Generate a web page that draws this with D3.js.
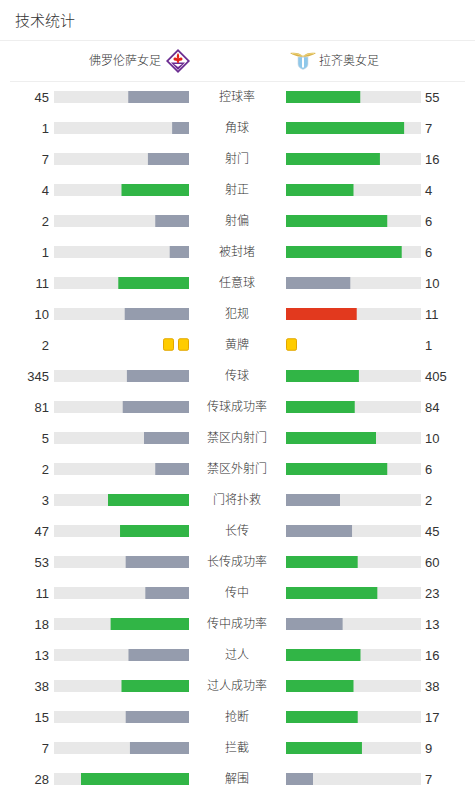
<!DOCTYPE html>
<html>
<head>
    <meta charset="utf-8">
    <title>技术统计</title>
    <style>
        html, body { margin: 0; padding: 0; background: #fff; }
        svg { display: block; }
        text { font-family: "Liberation Sans", "Noto Sans CJK SC", sans-serif; fill: #333; }
        .cjk { font-family: "Noto Sans CJK SC", sans-serif; font-weight: 300; }
    </style>
    <script src="https://cdn.jsdelivr.net/npm/d3@7"></script>
</head>
<body>
<script>

    var homeTeam = "佛罗伦萨女足",
        awayTeam = "拉齐奥女足"

    var statLabels = ["控球率", "角球", "射门", "射正", "射偏", "被封堵", "任意球", "犯规", "黄牌",
        "传球", "传球成功率", "禁区内射门", "禁区外射门", "门将扑救", "长传", "长传成功率", "传中",
        "传中成功率", "过人", "过人成功率", "抢断", "拦截", "解围"]
    var homeValues = [45, 1, 7, 4, 2, 1, 11, 10, 2, 345, 81, 5, 2, 3, 47, 53, 11, 18, 13, 38, 15, 7, 28]
    var awayValues = [55, 7, 16, 4, 6, 6, 10, 11, 1, 405, 84, 10, 6, 2, 45, 60, 23, 13, 16, 38, 17, 9, 7]

    // stats drawn as cards instead of bars, and stats where more is bad
    var cardStats = ["黄牌"]
    var badStats = ["犯规"]

    var view_width = 475,
        view_height = 795,
        bar_width = 135,
        bar_height = 12,
        left_bar_end = 189,
        right_bar_start = 286

    var green = "#31b546", grey = "#959cad", red = "#e2391e", track = "#e8e8e8"

    var svg = d3.select('body').append('svg')
        .attr('width', view_width)
        .attr('height', view_height)

    // title
    svg.append('text')
        .attr('class', 'cjk')
        .attr('x', 15)
        .attr('y', 26)
        .style('font-size', '15px')
        .text("技术统计")

    svg.append('line')
        .attr('x1', 0).attr('x2', view_width)
        .attr('y1', 40.5).attr('y2', 40.5)
        .attr('stroke', '#eeeeee')

    // team header
    svg.append('text')
        .attr('class', 'cjk')
        .attr('x', 161)
        .attr('y', 61)
        .attr('dy', '0.35em')
        .attr('text-anchor', 'end')
        .style('font-size', '12px')
        .text(homeTeam)
    svg.append('text')
        .attr('class', 'cjk')
        .attr('x', 319)
        .attr('y', 61)
        .attr('dy', '0.35em')
        .style('font-size', '12px')
        .text(awayTeam)

    // fiorentina badge
    var fio = svg.append('g').attr('transform', 'translate(178,61)')
    fio.append('path')
        .attr('d', 'M0,-12 L12,0 L0,12 L-12,0 Z')
        .attr('fill', '#6b2c91')
    fio.append('path')
        .attr('d', 'M0,-9.5 L9.5,0 L0,9.5 L-9.5,0 Z')
        .attr('fill', '#fff')
    fio.append('path')
        .attr('d', 'M-7,1.5 L7,1.5 L0,9 Z')
        .attr('fill', '#6b2c91')
    fio.append('path')
        .attr('d', 'M-4,3 L4,3 L0,6 Z')
        .attr('fill', '#fff')
    fio.append('path')
        .attr('d', 'M0,-8 C1.5,-6 1.5,-4 0.6,-2.5 C2,-4 4.5,-4 4.5,-2 C4.5,-0.5 3,0 2,-0.5 L0.8,0.8 L0.8,2 L-0.8,2 L-0.8,0.8 L-2,-0.5 C-3,0 -4.5,-0.5 -4.5,-2 C-4.5,-4 -2,-4 -0.6,-2.5 C-1.5,-4 -1.5,-6 0,-8 Z')
        .attr('fill', '#e2231a')

    // lazio badge
    var laz = svg.append('g').attr('transform', 'translate(303,61)')
    laz.append('path')
        .attr('d', 'M-13,-8 C-8,-9 -3,-8 0,-5 C3,-8 8,-9 13,-8 C10,-6 6,-4.5 2,-4 L-2,-4 C-6,-4.5 -10,-6 -13,-8 Z')
        .attr('fill', '#d8b24a')
    laz.append('path')
        .attr('d', 'M-11,-7.5 C-7,-7.5 -3,-6.5 0,-4.5 C3,-6.5 7,-7.5 11,-7.5')
        .attr('fill', 'none')
        .attr('stroke', '#f3dd8c')
        .attr('stroke-width', 0.8)
    laz.append('path')
        .attr('d', 'M-5,-4 L5,-4 L5,3 C5,6 2.5,7.5 0,8.5 C-2.5,7.5 -5,6 -5,3 Z')
        .attr('fill', '#8fc8ea')
        .attr('stroke', '#d0d8e0')
        .attr('stroke-width', 0.6)
    laz.append('rect')
        .attr('x', -1).attr('y', -3.5)
        .attr('width', 2).attr('height', 10)
        .attr('fill', '#ffffff')

    svg.append('line')
        .attr('x1', 10).attr('x2', 465)
        .attr('y1', 81.5).attr('y2', 81.5)
        .attr('stroke', '#eeeeee')

    // rows
    var y = d3.scaleBand()
        .domain(statLabels)
        .range([81.5, 81.5 + statLabels.length * 31])

    var w = d3.scaleLinear()
        .domain([0, 1])
        .range([0, bar_width])

    var rows = statLabels.map(function (label, i) {
        return {label: label, home: homeValues[i], away: awayValues[i]}
    })

    function sideColor(mine, other, label) {
        if (mine < other) return grey
        return badStats.indexOf(label) >= 0 ? red : green
    }

    var row = svg.selectAll('g.row')
        .data(rows)
        .enter().append('g')
        .attr('class', 'row')
        .attr('transform', function (d) {
            return 'translate(0,' + (y(d.label) + y.bandwidth() / 2) + ')'
        })

    row.append('text')
        .attr('x', 49)
        .attr('dy', '0.36em')
        .attr('text-anchor', 'end')
        .style('font-size', '13px')
        .text(function (d) { return d.home })

    row.append('text')
        .attr('x', 425)
        .attr('dy', '0.36em')
        .style('font-size', '13px')
        .text(function (d) { return d.away })

    row.append('text')
        .attr('class', 'cjk')
        .attr('x', 237)
        .attr('dy', '0.36em')
        .attr('text-anchor', 'middle')
        .style('font-size', '12px')
        .text(function (d) { return d.label })

    var barRows = row.filter(function (d) { return cardStats.indexOf(d.label) < 0 })

    barRows.append('rect')
        .attr('x', left_bar_end - bar_width)
        .attr('y', -bar_height / 2)
        .attr('width', bar_width)
        .attr('height', bar_height)
        .attr('fill', track)
    barRows.append('rect')
        .attr('x', right_bar_start)
        .attr('y', -bar_height / 2)
        .attr('width', bar_width)
        .attr('height', bar_height)
        .attr('fill', track)

    barRows.append('rect')
        .attr('x', function (d) { return left_bar_end - w(d.home / (d.home + d.away)) })
        .attr('y', -bar_height / 2)
        .attr('width', function (d) { return w(d.home / (d.home + d.away)) })
        .attr('height', bar_height)
        .attr('fill', function (d) { return sideColor(d.home, d.away, d.label) })
    barRows.append('rect')
        .attr('x', right_bar_start)
        .attr('y', -bar_height / 2)
        .attr('width', function (d) { return w(d.away / (d.home + d.away)) })
        .attr('height', bar_height)
        .attr('fill', function (d) { return sideColor(d.away, d.home, d.label) })

    // cards
    var cardRows = row.filter(function (d) { return cardStats.indexOf(d.label) >= 0 })
    var card_w = 11, card_h = 12.5, card_gap = 4

    cardRows.each(function (d) {
        var g = d3.select(this)
        g.selectAll('rect.home-card')
            .data(d3.range(d.home))
            .enter().append('rect')
            .attr('class', 'home-card')
            .attr('x', function (k) { return left_bar_end - card_w - k * (card_w + card_gap) + 0.5 })
            .attr('y', -card_h / 2)
            .attr('width', card_w - 1)
            .attr('height', card_h - 1)
            .attr('rx', 1.5)
            .attr('fill', '#ffcc00')
            .attr('stroke', '#e2a700')
        g.selectAll('rect.away-card')
            .data(d3.range(d.away))
            .enter().append('rect')
            .attr('class', 'away-card')
            .attr('x', function (k) { return right_bar_start + k * (card_w + card_gap) + 0.5 })
            .attr('y', -card_h / 2)
            .attr('width', card_w - 1)
            .attr('height', card_h - 1)
            .attr('rx', 1.5)
            .attr('fill', '#ffcc00')
            .attr('stroke', '#e2a700')
    })

</script>
</body>
</html>
